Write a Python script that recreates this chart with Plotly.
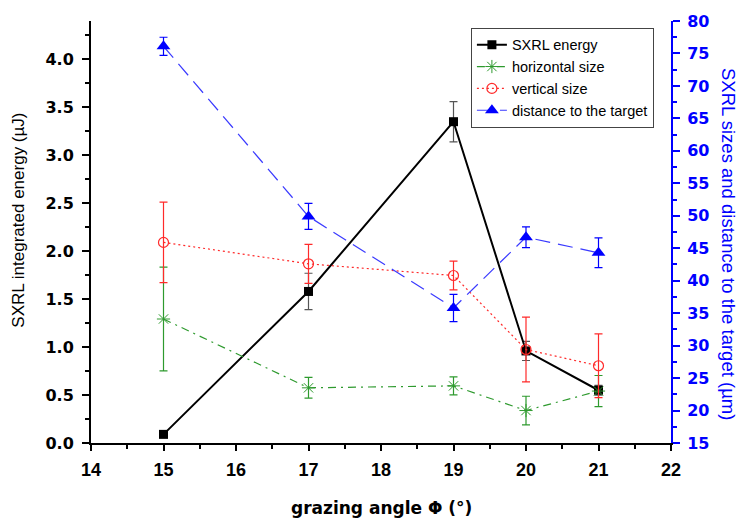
import plotly.graph_objects as go

# grazing angles (degrees)
angle = [15, 17, 19, 20, 21]

# SXRL integrated energy (uJ) and its uncertainty
energy = [0.09, 1.58, 3.35, 0.96, 0.55]
energy_err = [0.02, 0.19, 0.21, 0.10, 0.05]

# horizontal source size (um)
h_size = [34.1, 23.5, 23.8, 20.0, 23.0]
h_size_err = [8.0, 1.6, 1.4, 2.2, 2.4]

# vertical source size (um)
v_size = [45.9, 42.6, 40.8, 29.4, 26.9]
v_size_err = [6.2, 3.0, 2.2, 5.0, 4.9]

# source distance to the target (um)
distance = [76.1, 49.9, 35.8, 46.7, 44.3]
distance_err = [1.4, 2.0, 2.1, 1.6, 2.3]

BLACK = "#000000"
GREEN = "#2e9a2e"
RED = "#ff2a2a"
BLUE = "#0000ff"

fig = go.Figure()

fig.add_trace(go.Scatter(
    x=angle, y=energy, name="SXRL energy", mode="lines+markers",
    line=dict(color=BLACK, width=2),
    marker=dict(symbol="square", size=9, color=BLACK),
    error_y=dict(type="data", array=energy_err, color="#555555", thickness=1.2, width=4),
    yaxis="y",
))
fig.add_trace(go.Scatter(
    x=angle, y=h_size, name="horizontal size", mode="lines+markers",
    line=dict(color=GREEN, width=1.2, dash="8px,5px,2px,5px"),
    marker=dict(symbol="asterisk-open", size=11, color=GREEN, line=dict(color=GREEN, width=1)),
    error_y=dict(type="data", array=h_size_err, color=GREEN, thickness=1.2, width=4),
    yaxis="y2",
))
fig.add_trace(go.Scatter(
    x=angle, y=v_size, name="vertical size", mode="lines+markers",
    line=dict(color=RED, width=1.2, dash="2px,3px"),
    marker=dict(symbol="circle-open", size=10, color=RED, line=dict(color=RED, width=1.2)),
    error_y=dict(type="data", array=v_size_err, color=RED, thickness=1.2, width=4),
    yaxis="y2",
))
fig.add_trace(go.Scatter(
    x=angle, y=distance, name="distance to the target", mode="lines+markers",
    line=dict(color="#3a3aff", width=1.2, dash="15px,8px"),
    marker=dict(symbol="triangle-up", size=12, color=BLUE),
    error_y=dict(type="data", array=distance_err, color=BLUE, thickness=1.2, width=4),
    yaxis="y2",
))

tick_x_font = dict(family="Liberation Sans, Arial, sans-serif", size=18, color=BLACK, weight="bold")
tick_y_font = dict(family="DejaVu Sans, sans-serif", size=16, color=BLACK, weight="bold")

fig.update_layout(
    width=740, height=519,
    margin=dict(l=91, r=69, t=18, b=76),
    paper_bgcolor="white", plot_bgcolor="white",
    showlegend=True,
    legend=dict(
        x=0.655, y=0.984, xanchor="left", yanchor="top",
        bgcolor="white", bordercolor="#444444", borderwidth=1,
        font=dict(family="Liberation Sans, Arial, sans-serif", size=14.5, color=BLACK),
        tracegroupgap=0,
    ),
    xaxis=dict(
        range=[14, 22], dtick=1, tick0=14,
        showgrid=False, zeroline=False,
        showline=True, linecolor=BLACK, linewidth=2,
        ticks="outside", ticklen=6, tickwidth=1.5, tickcolor=BLACK,
        minor=dict(dtick=0.5, ticks="outside", ticklen=4, tickwidth=1.5, tickcolor=BLACK),
        tickfont=tick_x_font, ticklabelstandoff=3,
    ),
    xaxis2=dict(
        range=[14, 22], overlaying="x", side="top", dtick=0.5, tick0=14,
        showgrid=False, zeroline=False, showticklabels=False,
        showline=True, linecolor=BLACK, linewidth=2,
        ticks="inside", ticklen=5, tickwidth=1.5, tickcolor=BLACK,
    ),
    yaxis=dict(
        range=[0, 4.4], dtick=0.5, tick0=0, tickformat=".1f",
        showgrid=False, zeroline=False,
        showline=True, linecolor=BLACK, linewidth=2,
        ticks="outside", ticklen=7, tickwidth=1.5, tickcolor=BLACK,
        minor=dict(dtick=0.25, ticks="outside", ticklen=4, tickwidth=1.5, tickcolor=BLACK),
        tickfont=tick_y_font, ticklabelstandoff=5,
    ),
    yaxis2=dict(
        range=[15, 80], dtick=5, tick0=15, overlaying="y", side="right",
        showgrid=False, zeroline=False,
        showline=True, linecolor=BLUE, linewidth=2,
        ticks="outside", ticklen=7, tickwidth=1.5, tickcolor=BLUE,
        minor=dict(dtick=2.5, ticks="outside", ticklen=4, tickwidth=1.5, tickcolor=BLUE),
        tickfont=dict(family="DejaVu Sans, sans-serif", size=16, color=BLUE, weight="bold"),
        ticklabelstandoff=4,
    ),
    annotations=[
        dict(text="<b>grazing angle \u03a6 (\u00b0)</b>", xref="paper", yref="paper",
             x=0.5, y=-0.1546, xanchor="center", yanchor="middle", showarrow=False,
             font=dict(family="DejaVu Sans, sans-serif", size=17, color=BLACK)),
        dict(text="SXRL integrated energy (\u00b5J)", xref="paper", yref="paper",
             x=-0.124, y=0.527, xanchor="center", yanchor="middle", showarrow=False,
             textangle=-90,
             font=dict(family="Liberation Sans, Arial, sans-serif", size=17, color=BLACK)),
        dict(text="SXRL sizes and distance to the target (\u00b5m)", xref="paper", yref="paper",
             x=1.098, y=0.472, xanchor="center", yanchor="middle", showarrow=False,
             textangle=90,
             font=dict(family="Liberation Sans, Arial, sans-serif", size=18.5, color=BLUE)),
    ],
)

fig.write_html("out.html")
